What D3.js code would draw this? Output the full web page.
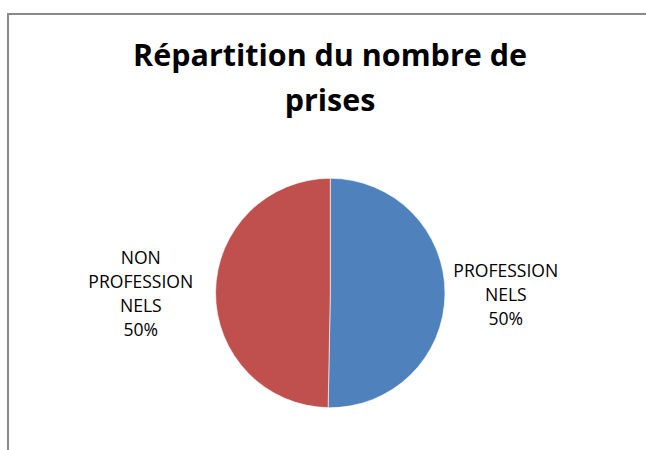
<!DOCTYPE html>
<html>
<head>
<meta charset="utf-8">
<script src="https://cdn.jsdelivr.net/npm/d3@7"></script>
<style>
  html, body { margin: 0; padding: 0; background: #fff; }
  svg { display: block; }
</style>
</head>
<body>
<svg id="chart" width="646" height="450"></svg>
<script>
// ---- data ----
const titleLines = ["Répartition du nombre de", "prises"];
const categories = ["PROFESSIONNELS", "NON PROFESSIONNELS"];
const labelLines = [["PROFESSION", "NELS"], ["NON", "PROFESSION", "NELS"]];
const values = [50.3, 49.7];
const colors = ["#4F81BD", "#C0504D"];

// ---- layout ----
const W = 646, H = 450;
const cx = 330.3, cy = 293, r = 114.7;
const font = "'Open Sans', Lato, 'Liberation Sans', sans-serif";

const svg = d3.select("#chart");

// size a font so that a reference string reaches a given width
function fitSize(str, weight, targetW) {
  const t = svg.append("text").attr("font-family", font)
    .attr("font-weight", weight).attr("font-size", 20).text(str);
  const w = t.node().getComputedTextLength();
  t.remove();
  return 20 * targetW / w;
}

// chart border (cropped frame)
svg.append("rect")
  .attr("x", 8).attr("y", 14)
  .attr("width", W + 20).attr("height", H + 20)
  .attr("fill", "#fff")
  .attr("stroke", "#898989")
  .attr("stroke-width", 2);

// title
const titleSize = fitSize(titleLines[0], "bold", 394);
const title = svg.append("text")
  .attr("text-anchor", "middle")
  .attr("font-family", font)
  .attr("font-weight", "bold")
  .attr("font-size", titleSize)
  .attr("fill", "#000");
title.selectAll("tspan").data(titleLines).join("tspan")
  .attr("x", 330)
  .attr("y", (d, i) => 66 + i * 45)
  .text(d => d);

// pie
const pie = d3.pie().sort(null).value(d => d);
const arcs = pie(values);
const arc = d3.arc().innerRadius(0).outerRadius(r);

const g = svg.append("g").attr("transform", `translate(${cx},${cy})`);
g.selectAll("path").data(arcs).join("path")
  .attr("d", arc)
  .attr("fill", (d, i) => colors[i])
  .attr("stroke", "#fff")
  .attr("stroke-width", 0.6);

// labels
const labelSize = fitSize("PROFESSION", "normal", 105);
const total = d3.sum(values);
const pct = d3.format(".0%");
const labelPos = [
  { x: cx + 175.5, y: 277 },
  { x: cx - 189.5, y: 264 }
];
arcs.forEach((a, i) => {
  const lines = labelLines[i].concat([pct(values[i] / total)]);
  const t = svg.append("text")
    .attr("text-anchor", "middle")
    .attr("font-family", font)
    .attr("font-size", labelSize)
    .attr("fill", "#000")
    .attr("data-category", categories[i]);
  t.selectAll("tspan").data(lines).join("tspan")
    .attr("x", labelPos[i].x)
    .attr("y", (d, j) => labelPos[i].y + j * 24)
    .text(d => d);
});
</script>
</body>
</html>
